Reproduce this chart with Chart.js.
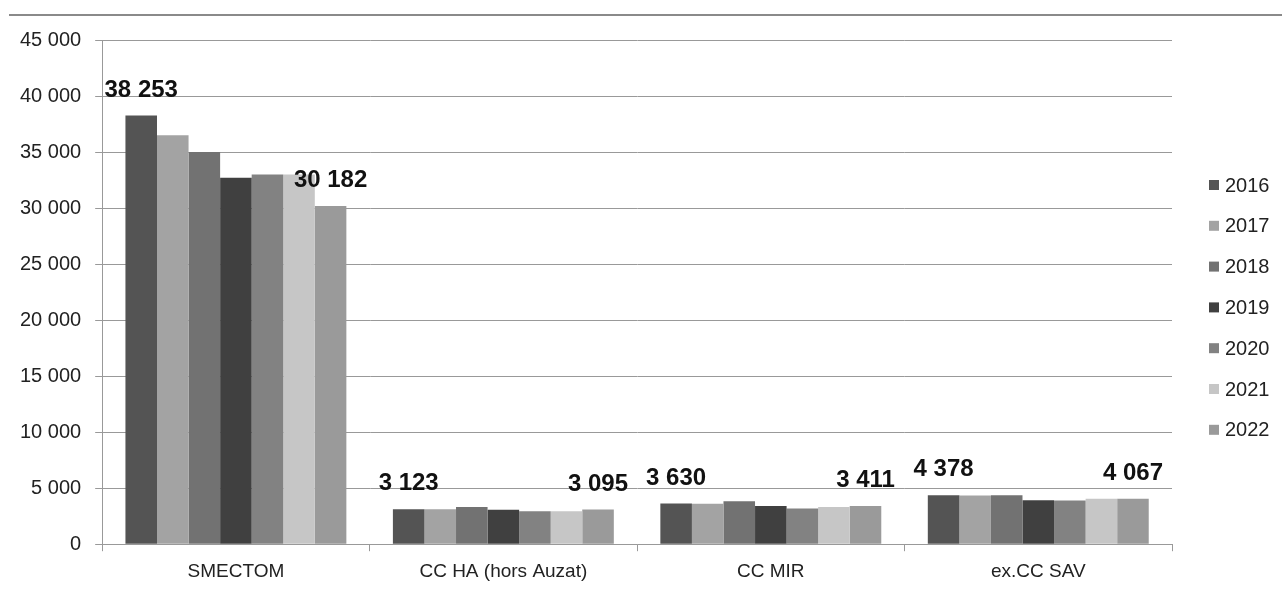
<!DOCTYPE html>
<html>
<head>
<meta charset="utf-8">
<script src="https://cdn.jsdelivr.net/npm/chart.js@4/dist/chart.umd.min.js"></script>
<style>
  html, body { margin: 0; padding: 0; background: #fff; }
  #wrap { width: 1282px; height: 592px; position: relative; }
</style>
</head>
<body>
<div id="wrap"><canvas id="c" width="1282" height="592"></canvas></div>
<script>
const categories = ["SMECTOM", "CC HA (hors Auzat)", "CC MIR", "ex.CC SAV"];
const years = ["2016", "2017", "2018", "2019", "2020", "2021", "2022"];
const v2016 = [38253, 3123, 3630, 4378];
const v2017 = [36500, 3110, 3600, 4350];
const v2018 = [35000, 3330, 3840, 4360];
const v2019 = [32700, 3080, 3420, 3930];
const v2020 = [33000, 2950, 3190, 3900];
const v2021 = [33000, 2950, 3330, 4050];
const v2022 = [30182, 3095, 3411, 4067];
const yTicks = [0, 5000, 10000, 15000, 20000, 25000, 30000, 35000, 40000, 45000];

const seriesValues = [v2016, v2017, v2018, v2019, v2020, v2021, v2022];
const colors = ["#545454", "#a3a3a3", "#727272", "#404040", "#828282", "#c6c6c6", "#9a9a9a"];
const fmt = n => String(Math.round(n)).replace(/\B(?=(\d{3})+(?!\d))/g, " ");

const datasets = years.map((y, i) => ({
  label: y,
  data: seriesValues[i],
  backgroundColor: colors[i],
  borderWidth: 0,
  barPercentage: 1.0,
  categoryPercentage: 0.826
}));

const decor = {
  id: "decor",
  beforeDraw(chart) {
    const ctx = chart.ctx;
    ctx.save();
    ctx.strokeStyle = "#8a8a8a";
    ctx.lineWidth = 2;
    ctx.beginPath();
    ctx.moveTo(9, 15);
    ctx.lineTo(1282, 15);
    ctx.stroke();
    ctx.restore();
  },
  afterDatasetsDraw(chart) {
    const ctx = chart.ctx;
    ctx.save();
    ctx.font = "bold 24px 'Liberation Sans', Arial, sans-serif";
    ctx.fillStyle = "#111";
    ctx.textAlign = "center";
    ctx.textBaseline = "alphabetic";
    [0, chart.data.datasets.length - 1].forEach(di => {
      const meta = chart.getDatasetMeta(di);
      meta.data.forEach((bar, j) => {
        const val = chart.data.datasets[di].data[j];
        ctx.fillText(fmt(val), bar.x, bar.y - 19);
      });
    });
    // legend
    ctx.font = "20px 'Liberation Sans', Arial, sans-serif";
    ctx.textAlign = "left";
    ctx.textBaseline = "middle";
    chart.data.datasets.forEach((ds, i) => {
      const cy = 185 + i * 40.8;
      ctx.fillStyle = ds.backgroundColor;
      ctx.fillRect(1209, cy - 5, 10, 10);
      ctx.fillStyle = "#222";
      ctx.fillText(ds.label, 1225, cy + 1);
    });
    ctx.restore();
  }
};

new Chart(document.getElementById("c"), {
  type: "bar",
  data: { labels: categories, datasets },
  options: {
    responsive: false,
    animation: false,
    events: [],
    layout: { padding: { left: 6, top: 40, right: 110, bottom: 0 } },
    plugins: { legend: { display: false }, tooltip: { enabled: false } },
    scales: {
      x: {
        offset: true,
        grid: { offset: true, drawOnChartArea: false, drawTicks: true, tickLength: 7, color: "#999", lineWidth: 1 },
        border: { display: true, color: "#999", width: 1 },
        ticks: { padding: 9, color: "#222", font: { family: "'Liberation Sans', Arial, sans-serif", size: 19 } }
      },
      y: {
        min: 0,
        max: 45000,
        afterBuildTicks(scale) { scale.ticks = yTicks.map(v => ({ value: v })); },
        grid: { color: "#999", lineWidth: 1, tickLength: 7, drawTicks: true },
        border: { display: true, color: "#999", width: 1 },
        ticks: {
          padding: 14,
          color: "#222",
          font: { family: "'Liberation Sans', Arial, sans-serif", size: 20 },
          callback: v => fmt(v)
        }
      }
    }
  },
  plugins: [decor]
});
</script>
</body>
</html>
